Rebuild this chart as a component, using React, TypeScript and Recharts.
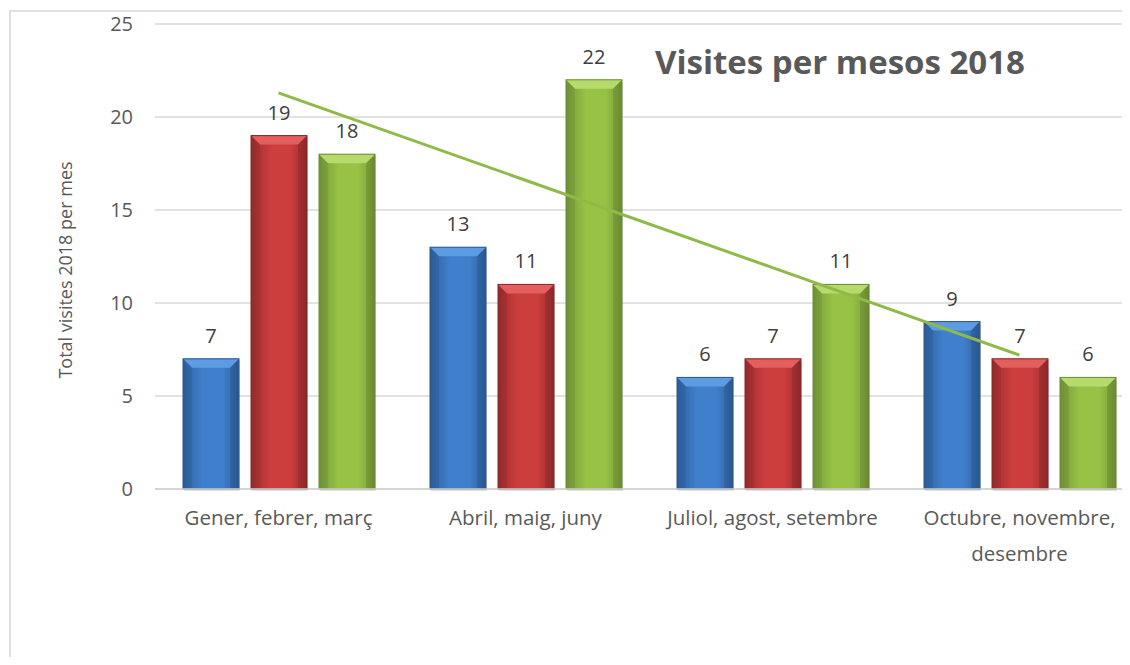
import { Bar, CartesianGrid, ComposedChart, LabelList, Line, XAxis, YAxis } from "recharts";

const categories = ["Gener, febrer, març", "Abril, maig, juny", "Juliol, agost, setembre", "Octubre, novembre, desembre"];
const mes1 = [7, 13, 6, 9];
const mes2 = [19, 11, 7, 7];
const mes3 = [18, 22, 11, 6];
// linear trendline on the third series
const tendencia = [21.3, 16.6, 11.9, 7.2];
const yTicks = [0, 5, 10, 15, 20, 25];

const data = categories.map((name, i) => ({
  name,
  mes1: mes1[i],
  mes2: mes2[i],
  mes3: mes3[i],
  tendencia: tendencia[i]
}));

const font = "'Open Sans', Lato, sans-serif";
const textColor = "#595959";

const tones = {
  blue: { id: "gBlue", edge: "#2f619f", mid: "#3f7fcb", top: "#5d9be2", line: "#2a5690" },
  red: { id: "gRed", edge: "#9c2d2e", mid: "#cc3d3e", top: "#e35e5f", line: "#872627" },
  green: { id: "gGreen", edge: "#76993a", mid: "#97c245", top: "#b6da6c", line: "#6a8b30" }
};

type Tone = (typeof tones)["blue"];

function BevelBar(props: any) {
  const { x, y, width: w, height: h, tone } = props as { x: number; y: number; width: number; height: number; tone: Tone };
  if (!h || h <= 0) return null;
  const b = Math.min(9, h / 2);
  return (
    <g>
      <rect x={x + 1} y={y + 2} width={w} height={h} fill="rgba(0,0,0,0.12)" />
      <rect x={x} y={y} width={w} height={h} fill={`url(#${tone.id})`} />
      <polygon points={`${x},${y} ${x + w},${y} ${x + w - b},${y + b} ${x + b},${y + b}`} fill={tone.top} />
      <polygon points={`${x},${y} ${x + b},${y + b} ${x + b},${y + h} ${x},${y + h}`} fill="rgba(0,0,0,0.06)" />
      <polygon points={`${x + w},${y} ${x + w - b},${y + b} ${x + w - b},${y + h} ${x + w},${y + h}`} fill="rgba(0,0,0,0.1)" />
      <rect x={x} y={y} width={w} height={h} fill="none" stroke={tone.line} strokeWidth={1} />
    </g>
  );
}

// break long category names over two lines, like the original axis
function wrapLabel(label: string, maxChars = 24) {
  const lines: string[] = [];
  let cur = "";
  for (const word of label.split(" ")) {
    const next = cur ? cur + " " + word : word;
    if (next.length > maxChars && cur) {
      lines.push(cur);
      cur = word;
    } else {
      cur = next;
    }
  }
  if (cur) lines.push(cur);
  return lines;
}

function CategoryTick(props: any) {
  const { x, y, payload } = props;
  const lines = wrapLabel(String(payload.value));
  return (
    <text x={x} y={y} textAnchor="middle" fontSize={20.5} fontFamily={font} fill={textColor}>
      {lines.map((line, i) => (
        <tspan key={i} x={x} dy={i === 0 ? 12 : 36}>
          {line}
        </tspan>
      ))}
    </text>
  );
}

function AxisTitle() {
  return (
    <text
      x={72}
      y={270}
      transform="rotate(-90, 72, 270)"
      textAnchor="middle"
      fontSize={18}
      fontFamily={font}
      fill={textColor}
    >
      Total visites 2018 per mes
    </text>
  );
}

const valueLabel = { position: "top" as const, offset: 16, fill: "#404040", fontSize: 20, fontFamily: font };

export default function App() {
  return (
    <div style={{ margin: -8, width: 1130, height: 665, position: "relative", overflow: "hidden", background: "#fff" }}>
      <svg width={0} height={0} style={{ position: "absolute" }}>
        <defs>
          {Object.values(tones).map((t) => (
            <linearGradient key={t.id} id={t.id} x1="0" y1="0" x2="1" y2="0">
              <stop offset="0%" stopColor={t.edge} />
              <stop offset="35%" stopColor={t.mid} />
              <stop offset="70%" stopColor={t.mid} />
              <stop offset="100%" stopColor={t.edge} />
            </linearGradient>
          ))}
        </defs>
      </svg>
      <div
        style={{
          position: "absolute",
          left: 9,
          top: 10,
          right: 0,
          bottom: 0,
          borderLeft: "2px solid #e0e0e0",
          borderTop: "2px solid #e0e0e0"
        }}
      />
      <div style={{ position: "absolute", left: 0, top: 0 }}>
        <ComposedChart
          width={1160}
          height={665}
          data={data}
          margin={{ top: 24, right: 17, bottom: 116, left: 0 }}
          barSize={56}
          barGap={12}
        >
          <CartesianGrid vertical={false} stroke="#d9d9d9" strokeWidth={1.5} />
          <XAxis
            dataKey="name"
            height={60}
            tickLine={false}
            tickMargin={18}
            axisLine={{ stroke: "#d0d0d0", strokeWidth: 1.5 }}
            tick={<CategoryTick />}
            interval={0}
          />
          <YAxis
            width={155}
            domain={[0, 25]}
            ticks={yTicks}
            axisLine={false}
            tickLine={false}
            tickMargin={16}
            tick={{ fontSize: 20, fontFamily: font, fill: textColor }}
            label={<AxisTitle />}
          />
          <Bar dataKey="mes1" isAnimationActive={false} shape={(p: any) => <BevelBar {...p} tone={tones.blue} />}>
            <LabelList dataKey="mes1" {...valueLabel} />
          </Bar>
          <Bar dataKey="mes2" isAnimationActive={false} shape={(p: any) => <BevelBar {...p} tone={tones.red} />}>
            <LabelList dataKey="mes2" {...valueLabel} />
          </Bar>
          <Bar dataKey="mes3" isAnimationActive={false} shape={(p: any) => <BevelBar {...p} tone={tones.green} />}>
            <LabelList dataKey="mes3" {...valueLabel} />
          </Bar>
          <Line
            dataKey="tendencia"
            type="linear"
            stroke="#8fba48"
            strokeWidth={3}
            dot={false}
            activeDot={false}
            isAnimationActive={false}
          />
        </ComposedChart>
      </div>
      <div
        style={{
          position: "absolute",
          left: 655,
          top: 40,
          fontFamily: font,
          fontWeight: 700,
          fontSize: 33,
          lineHeight: "44px",
          color: textColor,
          whiteSpace: "nowrap"
        }}
      >
        Visites per mesos 2018
      </div>
    </div>
  );
}
